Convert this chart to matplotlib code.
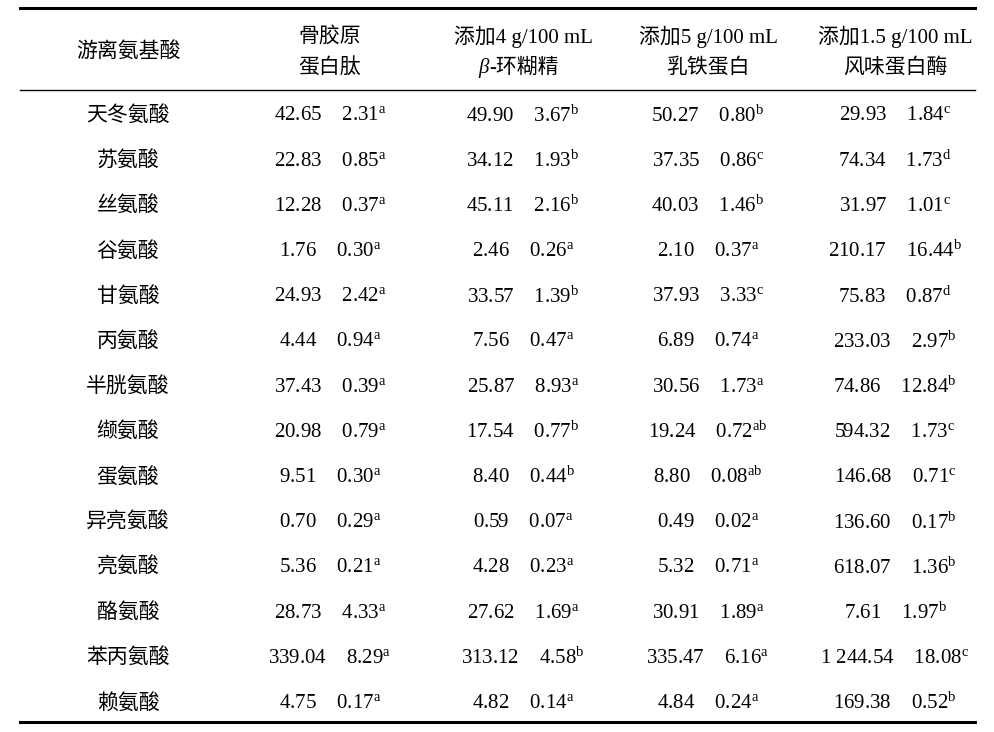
import matplotlib.pyplot as plt

plt.rcParams['font.family'] = ['Liberation Serif', 'Noto Sans CJK SC']
plt.rcParams['mathtext.fontset'] = 'custom'
plt.rcParams['mathtext.rm'] = 'Liberation Serif'
plt.rcParams['mathtext.it'] = 'Liberation Serif:italic'

amino = ['天冬氨酸', '苏氨酸', '丝氨酸', '谷氨酸', '甘氨酸', '丙氨酸', '半胱氨酸',
         '缬氨酸', '蛋氨酸', '异亮氨酸', '亮氨酸', '酪氨酸', '苯丙氨酸', '赖氨酸']
collagen = [('42.65', '2.31', 'a'), ('22.83', '0.85', 'a'), ('12.28', '0.37', 'a'),
            ('1.76', '0.30', 'a'), ('24.93', '2.42', 'a'), ('4.44', '0.94', 'a'),
            ('37.43', '0.39', 'a'), ('20.98', '0.79', 'a'), ('9.51', '0.30', 'a'),
            ('0.70', '0.29', 'a'), ('5.36', '0.21', 'a'), ('28.73', '4.33', 'a'),
            ('339.04', '8.29', 'a'), ('4.75', '0.17', 'a')]
cyclodextrin = [('49.90', '3.67', 'b'), ('34.12', '1.93', 'b'), ('45.11', '2.16', 'b'),
                ('2.46', '0.26', 'a'), ('33.57', '1.39', 'b'), ('7.56', '0.47', 'a'),
                ('25.87', '8.93', 'a'), ('17.54', '0.77', 'b'), ('8.40', '0.44', 'b'),
                ('0.59', '0.07', 'a'), ('4.28', '0.23', 'a'), ('27.62', '1.69', 'a'),
                ('313.12', '4.58', 'b'), ('4.82', '0.14', 'a')]
lactoferrin = [('50.27', '0.80', 'b'), ('37.35', '0.86', 'c'), ('40.03', '1.46', 'b'),
               ('2.10', '0.37', 'a'), ('37.93', '3.33', 'c'), ('6.89', '0.74', 'a'),
               ('30.56', '1.73', 'a'), ('19.24', '0.72', 'ab'), ('8.80', '0.08', 'ab'),
               ('0.49', '0.02', 'a'), ('5.32', '0.71', 'a'), ('30.91', '1.89', 'a'),
               ('335.47', '6.16', 'a'), ('4.84', '0.24', 'a')]
flavourzyme = [('29.93', '1.84', 'c'), ('74.34', '1.73', 'd'), ('31.97', '1.01', 'c'),
               ('210.17', '16.44', 'b'), ('75.83', '0.87', 'd'), ('233.03', '2.97', 'b'),
               ('74.86', '12.84', 'b'), ('594.32', '1.73', 'c'), ('146.68', '0.71', 'c'),
               ('136.60', '0.17', 'b'), ('618.07', '1.36', 'b'), ('7.61', '1.97', 'b'),
               ('1 244.54', '18.08', 'c'), ('169.38', '0.52', 'b')]

fig = plt.figure(figsize=(9.95, 7.32), dpi=100)
ax = fig.add_axes([0, 0, 1, 1])
ax.set_xlim(0, 995)
ax.set_ylim(732, 0)
ax.axis('off')

fs = 15
cx = [128, 330, 523, 708, 895]

# rules
ax.plot([20, 975], [8, 8], color='black', lw=2.2)
ax.plot([20, 975], [90, 90], color='black', lw=1.0)
ax.plot([20, 975], [722, 722], color='black', lw=2.2)

# header
ax.text(cx[0], 52, '游离氨基酸', ha='center', va='center', fontsize=fs)
ax.text(cx[1], 37, '骨胶原', ha='center', va='center', fontsize=fs)
ax.text(cx[1], 68, '蛋白肽', ha='center', va='center', fontsize=fs)
ax.text(cx[2], 37, '添加4 g/100 mL', ha='center', va='center', fontsize=fs)
ax.text(489, 68, 'β', ha='right', va='center', fontsize=fs, style='italic')
ax.text(489, 68, '-环糊精', ha='left', va='center', fontsize=fs)
ax.text(cx[3], 37, '添加5 g/100 mL', ha='center', va='center', fontsize=fs)
ax.text(cx[3], 68, '乳铁蛋白', ha='center', va='center', fontsize=fs)
ax.text(cx[4], 37, '添加1.5 g/100 mL', ha='center', va='center', fontsize=fs)
ax.text(cx[4], 68, '风味蛋白酶', ha='center', va='center', fontsize=fs)

cols = [collagen, cyclodextrin, lactoferrin, flavourzyme]
for i, name in enumerate(amino):
    y = 116 + i * 45.2
    ax.text(cx[0], y, name, ha='center', va='center', fontsize=fs)
    for j, col in enumerate(cols):
        m, s, sup = col[i]
        ax.text(cx[j + 1], y, m + '    ' + s + r'$^{\mathrm{' + sup + '}}$',
                ha='center', va='center', fontsize=fs)

fig.savefig('out.png', dpi=100)
